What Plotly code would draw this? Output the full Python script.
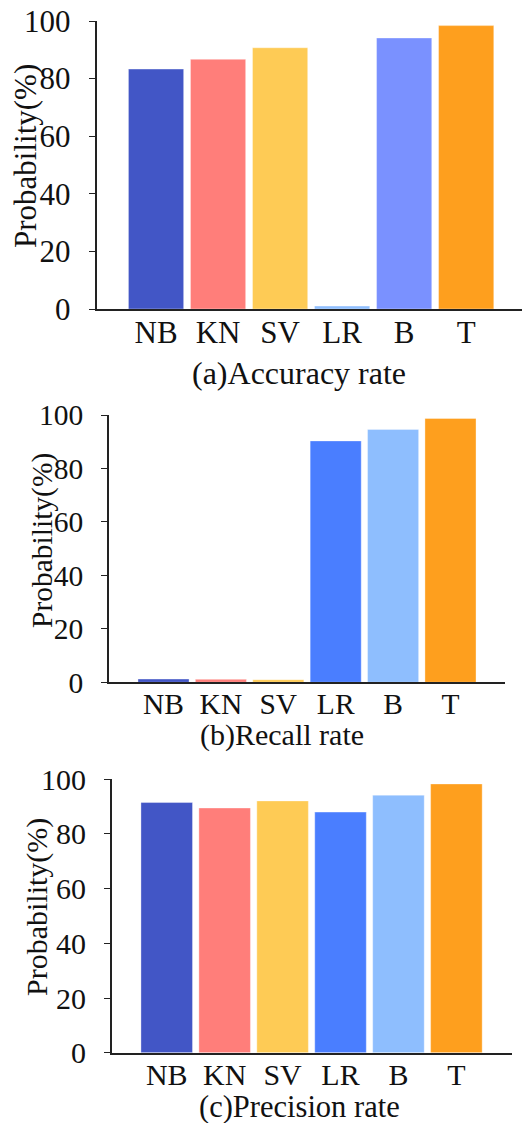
import plotly.graph_objects as go

categories = ["NB", "KN", "SV", "LR", "B", "T"]
accuracy = [83.3, 86.7, 90.7, 1.0, 94.1, 98.4]
recall = [1.2, 1.1, 1.0, 90.3, 94.6, 98.7]
precision = [91.5, 89.5, 92.1, 88.0, 94.2, 98.3]
y_ticks = [0, 20, 40, 60, 80, 100]
titles = ["(a)Accuracy rate", "(b)Recall rate", "(c)Precision rate"]
y_title = "Probability(%)"

colors_a = ["#4256C6", "#FF7E7A", "#FECB55", "#8EBEFE", "#7A91FF", "#FE9F1E"]
colors_bc = ["#4256C6", "#FF7E7A", "#FECB55", "#4A7EFF", "#8EBEFE", "#FE9F1E"]

W, H = 522, 1123
FONT = "Liberation Serif, Times New Roman, serif"

# panel geometry in pixels: (x_left, x_right, y_top(100), y_bottom(0)), x range
panels = [
    dict(vals=accuracy, colors=colors_a, px=(96.5, 522, 21, 309), xr=[-0.96, 5.9],
         ylab=(25, 156), title=(299, 373), fs=31, tfs=32),
    dict(vals=recall, colors=colors_bc, px=(109, 505, 415, 682.3), xr=[-0.95, 5.95],
         ylab=(42, 541), title=(282, 735), fs=29.5, tfs=30),
    dict(vals=precision, colors=colors_bc, px=(111.7, 512, 779.3, 1052.7), xr=[-0.95, 5.96],
         ylab=(37, 907), title=(299, 1107), fs=30, tfs=30.5),
]

fig = go.Figure()
annotations = []
for i, p in enumerate(panels):
    n = "" if i == 0 else str(i + 1)
    xl, xr_, yt, yb = p["px"]
    fs = p["fs"]
    fig.add_trace(go.Bar(
        x=categories, y=p["vals"], xaxis="x" + n, yaxis="y" + n,
        marker=dict(color=p["colors"], line=dict(width=1, color="rgba(255,255,255,0.35)")),
        width=0.89, showlegend=False, hoverinfo="skip",
    ))
    fig.update_layout(**{
        "xaxis" + n: dict(
            domain=[xl / W, xr_ / W], anchor="y" + n, type="category",
            range=p["xr"], showline=True, linecolor="#222", linewidth=1.5,
            ticks="", ticklen=0, showgrid=False, zeroline=False, automargin=False,
            tickfont=dict(family=FONT, size=fs, color="#111"),
            ticklabelstandoff=-5,
        ),
        "yaxis" + n: dict(
            domain=[1 - yb / H, 1 - yt / H], anchor="x" + n, range=[0, 100],
            tickvals=y_ticks, showline=True, linecolor="#222", linewidth=1.5,
            ticks="outside", ticklen=6, tickwidth=1.2, tickcolor="#222",
            showgrid=False, zeroline=False, automargin=False,
            tickfont=dict(family=FONT, size=fs, color="#111"),
            ticklabelstandoff=12,
        ),
    })
    annotations.append(dict(
        text=y_title, textangle=-90, xref="paper", yref="paper",
        x=p["ylab"][0] / W, y=1 - p["ylab"][1] / H, xanchor="center", yanchor="middle",
        showarrow=False, font=dict(family=FONT, size=fs, color="#111"),
    ))
    annotations.append(dict(
        text=titles[i], xref="paper", yref="paper",
        x=p["title"][0] / W, y=1 - p["title"][1] / H, xanchor="center", yanchor="middle",
        showarrow=False, font=dict(family=FONT, size=p["tfs"], color="#111"),
    ))

fig.update_layout(
    template="none",
    width=W, height=H, margin=dict(l=0, r=0, t=0, b=0, autoexpand=False),
    paper_bgcolor="white", plot_bgcolor="white",
    annotations=annotations,
)
fig.write_html("out.html", config={"displayModeBar": False},
               post_script="document.body.style.margin='0';")
